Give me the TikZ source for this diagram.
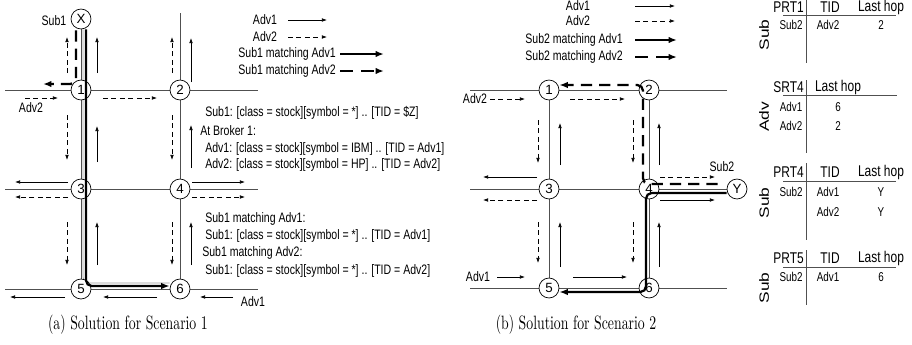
\documentclass[tikz,border=0pt]{standalone}
\usepackage{fontspec}
\setsansfont{Liberation Sans}
\usepackage{tikz}
\usetikzlibrary{arrows.meta, calc, backgrounds}
\definecolor{linkgray}{HTML}{505050}
\definecolor{ghostgray}{HTML}{9A9A9A}
\definecolor{routeblack}{HTML}{000000}

\tikzset{
  broker/.style={circle, draw=black, fill=white, line width=0.5pt, minimum size=14.2pt, inner sep=0pt, font=\sffamily\fontsize{9.5}{9.5}\selectfont},
  link/.style={draw=linkgray, line width=0.5pt},
  advone/.style={-{Latex[length=3.6pt,width=2.6pt]}, line width=0.5pt},
  advtwo/.style={advone, dash pattern=on 3.5pt off 2.5pt},
  matchone/.style={routeblack, -{Latex[length=6pt,width=4.6pt]}, line width=1.6pt, rounded corners=4pt},
  matchtwo/.style={matchone, dash pattern=on 8pt off 5pt},
  lbl/.style={font=\sffamily\fontsize{7.5}{9}\selectfont, inner sep=0pt, yscale=1.3},
  thead/.style={font=\sffamily\fontsize{8.5}{9}\selectfont, inner sep=0pt, yscale=1.3},
  tcell/.style={font=\sffamily\fontsize{7}{8}\selectfont, inner sep=0pt, yscale=1.3},
  tside/.style={font=\sffamily\fontsize{9.5}{10}\selectfont, inner sep=0pt, yscale=1.3, rotate=90},
  subcap/.style={font=\fontsize{9.8}{12}\selectfont, inner sep=0pt, yscale=1.4}
}

\begin{document}
\begin{tikzpicture}[x=0.025cm, y=-0.025cm]
  \useasboundingbox (0,0) rectangle (912,344);

  % (a) brokers
  \node[broker] (aX) at (81,19) {X};
  \node[broker] (a1) at (81,90) {1};
  \node[broker] (a2) at (180,90) {2};
  \node[broker] (a3) at (81,189) {3};
  \node[broker] (a4) at (180,189) {4};
  \node[broker] (a5) at (81,289) {5};
  \node[broker] (a6) at (180,289) {6};

  % (b) brokers
  \node[broker] (b1) at (549,90) {1};
  \node[broker] (b2) at (649,90) {2};
  \node[broker] (b3) at (549,189) {3};
  \node[broker] (b4) at (649,189) {4};
  \node[broker] (b5) at (549,288) {5};
  \node[broker] (b6) at (649,288) {6};
  \node[broker] (bY) at (737,189) {Y};

  \begin{scope}[on background layer]
    % overlay links (a)
    \draw[link] (aX) -- (a1) -- (a3) -- (a5);
    \draw[link] (a2) -- ++(0,-77);
    \draw[link] (a2) -- (a4) -- (a6);
    \foreach \l/\r in {a1/a2, a3/a4, a5/a6} {
      \draw[link] (\l) -- ++(-76,0);
      \draw[link] (\l) -- (\r);
      \draw[link] (\r) -- ++(78,0);
    }
    % overlay links (b)
    \draw[link] (b1) -- (b3) -- (b5);
    \draw[link] (b2) -- (b4) -- (b6);
    \foreach \l/\r in {b1/b2, b3/b4, b5/b6} {
      \draw[link] (\l) -- ++(-79,0);
      \draw[link] (\l) -- (\r);
    }
    \draw[link] (b2) -- ++(78,0);
    \draw[link] (b4) -- (bY);
    \draw[link] (b6) -- ++(78,0);

    % Sub1 matching Adv2 (under the brokers)
    \draw[matchtwo] ($(aX.south)+(-5,1)$) -- ($(a1)+(-5,-6)$) -- ($(a1)+(-38,-6)$);
    \draw[ghostgray, line width=0.5pt, rounded corners=4pt] ($(aX.south)+(2,0)$) |- ($(a6.west)+(0,-6)$);
  \end{scope}

  % Adv1 / Adv2 flooding (a)
  \foreach \ya/\yb in {73/37, 162/126, 265/222} {
    \draw[advone] (97,\ya) -- (97,\yb);
  }
  \draw[advone] (191,82) -- (191,38);
  \draw[advone] (191,168) -- (191,125);
  \draw[advone] (191,265) -- (191,222);
  \foreach \x in {67,172} {
    \draw[advtwo] (\x,73) -- (\x,37);
    \draw[advtwo] (\x,115) -- (\x,160);
    \draw[advtwo] (\x,222) -- (\x,265);
  }
  \draw[advtwo] (25,98) -- (58,98);
  \draw[advtwo] (103,98) -- (157,98);
  \draw[advone] (68,182) -- (15,182);
  \draw[advtwo] (68,197) -- (15,197);
  \draw[advone] (192,182) -- (245,182);
  \draw[advtwo] (192,197) -- (245,197);
  \draw[advone] (233,297) -- (200,297);
  \draw[advone] (157,297) -- (103,297);
  \draw[advone] (65,297) -- (10,297);

  % Adv1 / Adv2 flooding (b)
  \foreach \x in {538,633} {
    \draw[advtwo] (\x,120) -- (\x,163);
    \draw[advtwo] (\x,222) -- (\x,263);
  }
  \foreach \x in {560,659} {
    \draw[advone] (\x,165) -- (\x,123);
    \draw[advone] (\x,267) -- (\x,222);
  }
  \draw[advtwo] (490,99) -- (525,99);
  \draw[advtwo] (570,99) -- (625,99);
  \draw[advone] (537,177) -- (483,177);
  \draw[advtwo] (537,200) -- (483,200);
  \draw[advtwo] (660,177) -- (715,177);
  \draw[advone] (660,200) -- (715,200);
  \draw[advone] (497,277) -- (525,277);
  \draw[advone] (573,277) -- (627,277);

  % Matching routes on top of the brokers
  \draw[matchone] ($(aX.south)+(5,0)$) |- ($(a6.west)+(0,-3)$);
  \draw[matchone] ($(bY.west)+(0,4)$) -- ($(b4)+(-3,4)$) -- ($(b6)+(-3,4)$) -- ($(b5.east)+(0,4)$);
  \draw[matchtwo] ($(bY.west)+(-9,-5)$) -- ($(b4)+(-6,-5)$) -- ($(b2)+(-6,-5)$) -- ($(b1.east)+(0,-5)$);

  % Labels (a)
  \node[lbl] (subA) at (54,21) {Sub1};
  \node[lbl] (advTwoA) at (31,108) {Adv2};
  \node[lbl] (advOneA) at (253,302) {Adv1};

  % Legend (a)
  \node[lbl] (legOneA) at (265,20) {Adv1};
  \draw[advone] (288,20) -- (327,20);
  \node[lbl] (legTwoA) at (265,37) {Adv2};
  \draw[advtwo] (288,37) -- (327,37);
  \node[lbl, anchor=east] (legMoneA) at (336,54) {Sub1 matching Adv1};
  \draw[matchone] (340,54) -- (384,54);
  \node[lbl, anchor=east] (legMtwoA) at (336,71) {Sub1 matching Adv2};
  \draw[matchtwo, dash pattern=on 9pt off 6pt] (340,71) -- (384,71);

  % Filters (a)
  \node[lbl, anchor=west] (fSub) at (205,113) {Sub1: [class = stock][symbol = *] .. [TID = \$Z]};
  \node[lbl, anchor=west] (fBroker) at (200,131) {At Broker 1:};
  \node[lbl, anchor=west] (fAdvOne) at (205,149) {Adv1: [class = stock][symbol = IBM] .. [TID = Adv1]};
  \node[lbl, anchor=west] (fAdvTwo) at (205,165) {Adv2: [class = stock][symbol = HP] .. [TID = Adv2]};
  \node[lbl, anchor=west] (fMone) at (205,219) {Sub1 matching Adv1:};
  \node[lbl, anchor=west] (fMoneSub) at (205,236) {Sub1: [class = stock][symbol = *] .. [TID = Adv1]};
  \node[lbl, anchor=west] (fMtwo) at (202,253) {Sub1 matching Adv2:};
  \node[lbl, anchor=west] (fMtwoSub) at (205,271) {Sub1: [class = stock][symbol = *] .. [TID = Adv2]};

  % Labels (b)
  \node[lbl] (advTwoB) at (475,99) {Adv2};
  \node[lbl] (advOneB) at (478,277) {Adv1};
  \node[lbl] (subB) at (722,167) {Sub2};

  % Legend (b)
  \node[lbl] (legOneB) at (578,6) {Adv1};
  \draw[advone] (635,6) -- (675,6);
  \node[lbl] (legTwoB) at (578,21) {Adv2};
  \draw[advtwo] (635,21) -- (675,21);
  \node[lbl, anchor=east] (legMoneB) at (623,40) {Sub2 matching Adv1};
  \draw[matchone] (635,40) -- (677,40);
  \node[lbl, anchor=east] (legMtwoB) at (623,57) {Sub2 matching Adv2};
  \draw[matchtwo, dash pattern=on 9pt off 6pt] (635,57) -- (677,57);

  % Routing tables
  \draw[link] (806,0) -- (806,63);
  \draw[link] (783,15) -- (896,15);
  \node[thead, anchor=east] (prtOne) at (804,7) {PRT1};
  \node[thead] (prtOneT) at (830,7) {TID};
  \node[thead] (prtOneL) at (881,7) {Last hop};
  \node[tcell] (prtOneS) at (791,25) {Sub2};
  \node[tcell] (prtOneA) at (828,25) {Adv2};
  \node[tcell] (prtOneH) at (881,25) {2};
  \node[tside] (prtOneK) at (764,35) {Sub};

  \draw[link] (806,80) -- (806,153);
  \draw[link] (783,95) -- (897,95);
  \node[thead, anchor=east] (srtFour) at (804,87) {SRT4};
  \node[thead] (srtFourL) at (838,87) {Last hop};
  \node[tcell] (srtFourA) at (791,107) {Adv1};
  \node[tcell] (srtFourH) at (838,107) {6};
  \node[tcell] (srtFourB) at (791,126) {Adv2};
  \node[tcell] (srtFourI) at (838,126) {2};
  \node[tside] (srtFourK) at (764,117) {Adv};

  \draw[link] (806,163) -- (806,240);
  \draw[link] (783,181) -- (896,181);
  \node[thead, anchor=east] (prtFour) at (804,172) {PRT4};
  \node[thead] (prtFourT) at (830,172) {TID};
  \node[thead] (prtFourL) at (881,172) {Last hop};
  \node[tcell] (prtFourS) at (791,192) {Sub2};
  \node[tcell] (prtFourA) at (828,192) {Adv1};
  \node[tcell] (prtFourH) at (881,192) {Y};
  \node[tcell] (prtFourB) at (828,212) {Adv2};
  \node[tcell] (prtFourI) at (881,212) {Y};
  \node[tside] (prtFourK) at (764,203) {Sub};

  \draw[link] (806,250) -- (806,305);
  \draw[link] (783,267) -- (896,267);
  \node[thead, anchor=east] (prtFive) at (804,258) {PRT5};
  \node[thead] (prtFiveT) at (830,258) {TID};
  \node[thead] (prtFiveL) at (881,258) {Last hop};
  \node[tcell] (prtFiveS) at (791,277) {Sub2};
  \node[tcell] (prtFiveA) at (828,277) {Adv1};
  \node[tcell] (prtFiveH) at (881,277) {6};
  \node[tside] (prtFiveK) at (764,288) {Sub};

  % Captions
  \node[subcap] (capA) at (128,325) {(a) Solution for Scenario 1};
  \node[subcap] (capB) at (576,325) {(b) Solution for Scenario 2};
\end{tikzpicture}
\end{document}
